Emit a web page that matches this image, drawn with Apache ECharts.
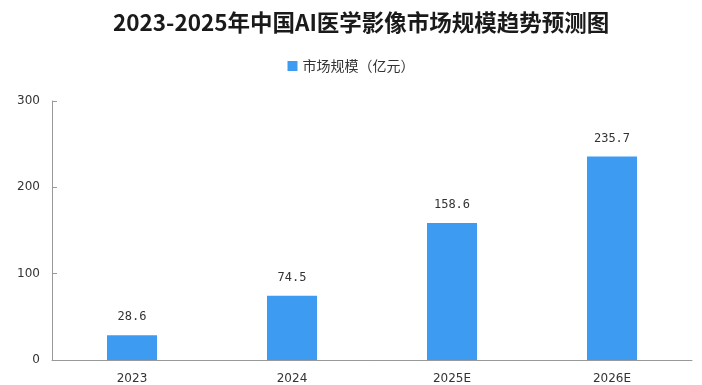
<!DOCTYPE html>
<html><head><meta charset="utf-8">
<script src="https://cdn.jsdelivr.net/npm/echarts@6/dist/echarts.min.js"></script>
<style>html,body{margin:0;padding:0;background:#fff}#c{width:702px;height:385px}</style>
</head><body><div id="c"></div>
<script>
const categories = ['2023', '2024', '2025E', '2026E'];
const marketSize = [28.6, 74.5, 158.6, 235.7];
const seriesName = '市场规模（亿元）';
const titleText = '2023-2025年中国AI医学影像市场规模趋势预测图';

const chart = echarts.init(document.getElementById('c'));
chart.setOption({
  animation: false,
  title: {
    text: titleText, left: 108, top: 6,
    textStyle: { fontFamily: 'Noto Sans CJK SC', fontWeight: 'bold', fontSize: 22.5, color: '#1a1a1a' }
  },
  legend: {
    data: [seriesName], top: 54, left: 'center', itemWidth: 10, itemHeight: 10, itemGap: 5,
    icon: 'rect',
    textStyle: { fontFamily: 'Noto Sans CJK SC', fontSize: 14, color: '#333' }
  },
  grid: { left: 52, right: 10, top: 101, bottom: 24, containLabel: false },
  xAxis: {
    type: 'category', data: categories,
    axisLine: { lineStyle: { color: '#999' } },
    axisTick: { inside: true, length: 5, lineStyle: { color: '#999' } },
    axisLabel: { color: '#333', fontSize: 12, margin: 13, fontFamily: 'DejaVu Sans' }
  },
  yAxis: {
    type: 'value', min: 0, max: 300, interval: 100,
    splitLine: { show: false },
    axisLine: { show: true, lineStyle: { color: '#999' } },
    axisTick: { show: true, inside: true, length: 5, lineStyle: { color: '#999' } },
    axisLabel: { color: '#333', fontSize: 12, margin: 12, fontFamily: 'DejaVu Sans' }
  },
  series: [{
    name: seriesName, type: 'bar', data: marketSize, barWidth: 50,
    itemStyle: { color: '#3d9cf2' },
    label: { show: true, position: 'top', distance: 12, color: '#333', fontSize: 12, fontFamily: 'DejaVu Sans Mono' }
  }]
});
</script></body></html>
